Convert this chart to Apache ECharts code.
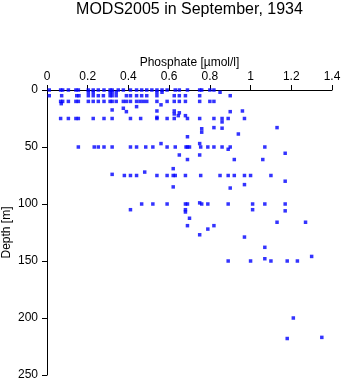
<!DOCTYPE html>
<html>
<head>
<meta charset="utf-8">
<script src="https://cdn.jsdelivr.net/npm/echarts@6/dist/echarts.min.js"></script>
<style>
html,body{margin:0;padding:0;background:#fff;}
#c{width:343px;height:384px;}
</style>
</head>
<body>
<div id="c"></div>
<script>
// Phosphate values (µmol/l) at standard depths (m)
var p0   = [0.011,0.067,0.077,0.105,0.142,0.154,0.203,0.227,0.252,0.28,0.31,0.32,0.35,0.375,0.41,0.44,0.465,0.49,0.515,0.54,0.565,0.59,0.63,0.65,0.69,0.75,0.76,0.80,0.82];
var p2   = [0.203,0.227,0.31,0.32,0.34,0.54,0.565,0.85];
var p5   = [0.011,0.072,0.146,0.157,0.203,0.227,0.252,0.277,0.31,0.32,0.34,0.39,0.41,0.44,0.465,0.49,0.54,0.625,0.65,0.68,0.75,0.90];
var p10  = [0.067,0.077,0.105,0.142,0.154,0.203,0.227,0.252,0.28,0.31,0.32,0.34,0.375,0.39,0.41,0.44,0.457,0.473,0.49,0.54,0.59,0.625,0.65,0.68,0.75,0.80,0.82];
var p25  = [0.067,0.105,0.142,0.154,0.227,0.28,0.32,0.41,0.46,0.54,0.59,0.625,0.69,0.75,0.82,0.86,0.89,0.97];
var p50  = [0.154,0.232,0.252,0.28,0.32,0.41,0.44,0.485,0.52,0.59,0.63,0.683,0.69,0.70,0.755,0.79,0.82,0.86,0.90,1.07];
var p75  = [0.38,0.41,0.44,0.54,0.59,0.62,0.63,0.68,0.755,0.85,0.89,0.92,0.97,1.0,1.1];
var p100 = [0.465,0.52,0.59,0.68,0.69,0.76,0.79,0.89,1.01,1.07,1.17];
var p150 = [0.89,1.0,1.10,1.18,1.23];
var stdDepths = [0,2,5,10,25,50,75,100,150];
var stdPhos = [p0,p2,p5,p10,p25,p50,p75,p100,p150];
// Other observations (non-standard depths)
var otherPhos  = [0.07,0.32,0.375,0.39,0.44,0.56,0.54,0.625,0.65,0.625,0.645,0.68,0.90,0.96,0.54,0.86,0.76,0.76,0.82,0.86,0.94,1.13,0.69,0.56,0.75,0.89,1.17,0.65,0.75,0.69,0.92,1.06,0.32,0.48,0.62,0.62,1.17,0.97,0.90,0.75,0.41,0.68,0.68,1.01,1.17,0.70,1.13,1.27,0.69,0.82,0.79,0.75,0.97,1.07,1.07,1.30,1.21,1.18,1.35];
var otherDepth = [12,17.5,16,19,14.6,13,18.4,18.4,20,21,22.5,22.5,19,18.4,24,28,34,37,33,33.5,38.6,33,41,47,47,52,55.5,57,57,61,61,61,74,72,69,85,80,83,86,99,105,105,107,105,106,112.5,116,116,119,119,122,127,129,138,148,146,200,218,217];
var xTicks = [0,0.2,0.4,0.6,0.8,1,1.2,1.4];
var yTicks = [0,50,100,150,200,250];

var pts = [];
for (var i = 0; i < stdDepths.length; i++) {
  for (var j = 0; j < stdPhos[i].length; j++) pts.push([stdPhos[i][j], stdDepths[i]]);
}
for (var k = 0; k < otherPhos.length; k++) pts.push([otherPhos[k], otherDepth[k]]);

var FONT = 'Liberation Sans';
var chart = echarts.init(document.getElementById('c'), null, {renderer:'canvas'});
chart.setOption({
  animation: false,
  backgroundColor: '#ffffff',
  title: {
    text: 'MODS2005 in September, 1934',
    left: 184.5,
    textAlign: 'center',
    top: -3,
    textStyle: {fontFamily: FONT, fontSize: 16, fontWeight: 'normal', color: '#000'}
  },
  grid: {left: 47, right: 11, top: 90, bottom: 9, containLabel: false, outerBoundsMode: 'none'},
  xAxis: {
    type: 'value', position: 'top', min: 0, max: 1.4, interval: 0.2,
    name: 'Phosphate [\u00b5mol/l]', nameLocation: 'middle', nameGap: 21.5, nameMoveOverlap: false,
    nameTextStyle: {fontFamily: FONT, fontSize: 12, color: '#000'},
    axisLine: {show: true, lineStyle: {color: '#000', width: 1}},
    axisTick: {show: true, length: 5, lineStyle: {color: '#000'}},
    axisLabel: {fontFamily: FONT, fontSize: 12, color: '#000', margin: 7,
      formatter: function(v){ return String(+v.toFixed(1)); }},
    splitLine: {show: false}
  },
  yAxis: {
    type: 'value', inverse: true, min: 0, max: 250, interval: 50,
    name: 'Depth [m]', nameLocation: 'middle', nameGap: 34, nameMoveOverlap: false,
    nameTextStyle: {fontFamily: FONT, fontSize: 12, color: '#000'},
    axisLine: {show: true, lineStyle: {color: '#000', width: 1}},
    axisTick: {show: true, length: 5, lineStyle: {color: '#000'}},
    axisLabel: {fontFamily: FONT, fontSize: 12, color: '#000', margin: 9},
    splitLine: {show: false}
  },
  series: [{
    type: 'scatter',
    data: pts,
    symbol: 'rect',
    symbolSize: 3.5,
    itemStyle: {color: '#0000ff'},
    silent: true
  }]
});
</script>
</body>
</html>
